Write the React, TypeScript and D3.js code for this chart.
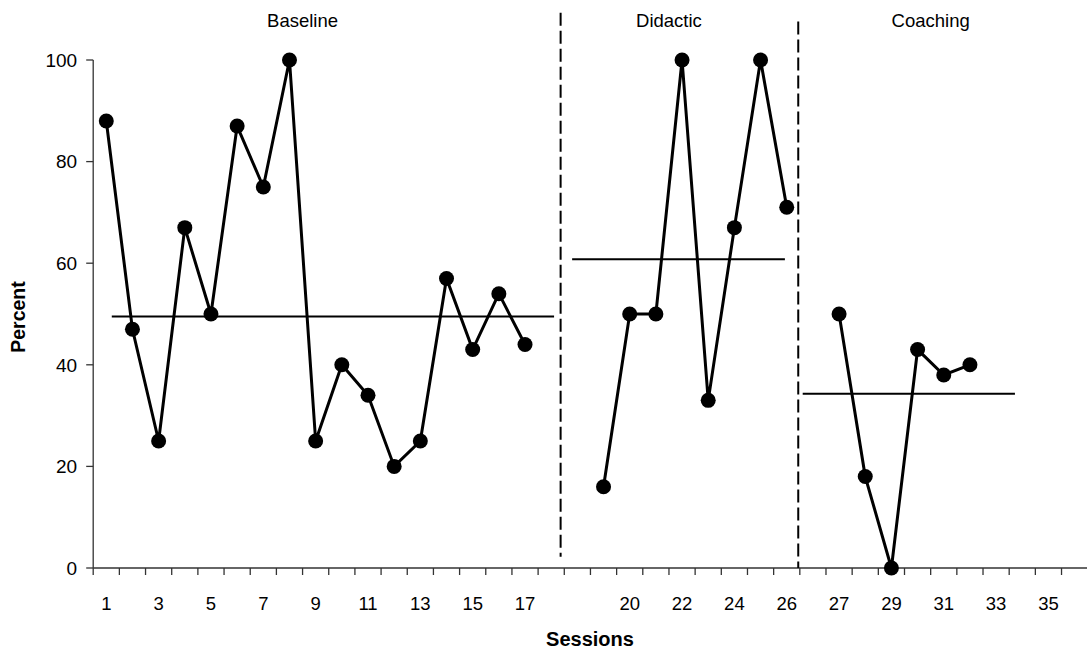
import React from "react";
import * as d3 from "d3";

// Session category labels along the x axis (blank entries separate the phases)
const categories: string[] = [
  "1", "2", "3", "4", "5", "6", "7", "8", "9", "10", "11", "12", "13", "14", "15", "16", "17",
  "18", "",
  "19", "20", "21", "22", "23", "24", "25", "26",
  "",
  "27", "28", "29", "30", "31", "32", "33", "34", "35", "36",
];

// Percent per session, by phase
const baselineSessions = ["1", "2", "3", "4", "5", "6", "7", "8", "9", "10", "11", "12", "13", "14", "15", "16", "17"];
const baselineValues = [88, 47, 25, 67, 50, 87, 75, 100, 25, 40, 34, 20, 25, 57, 43, 54, 44];

const didacticSessions = ["19", "20", "21", "22", "23", "24", "25", "26"];
const didacticValues = [16, 50, 50, 100, 33, 67, 100, 71];

const coachingSessions = ["27", "28", "29", "30", "31", "32"];
const coachingValues = [50, 18, 0, 43, 38, 40];

// Phase names, level (mean) lines and the span each covers, in category units
const phaseNames = ["Baseline", "Didactic", "Coaching"];
const phaseLabelAt = [8, 22, 32];
const phaseLevels = [49.5, 60.8, 34.3];
const phaseLevelFrom = [0.71, 18.3, 27.11];
const phaseLevelTo = [17.61, 26.43, 35.22];

// Phase change lines, in category units, with their vertical reach in percent
const phaseChangeAt = [17.86, 26.94];
const phaseChangeTop = [109.3, 107.6];
const phaseChangeBottom = [2.2, 0];

const yTicks = [0, 20, 40, 60, 80, 100];

const W = 1087;
const H = 654;
const left = 93.2;
const right = 1087.7;
const top = 60;
const bottom = 568;
const FONT = "Liberation Sans, Arial, Helvetica, sans-serif";

export default function App() {
  const x = d3
    .scaleBand<number>()
    .domain(d3.range(categories.length))
    .range([left, right])
    .paddingInner(0)
    .paddingOuter(0);
  const bw = x.bandwidth();
  const cx = (session: string) => (x(categories.indexOf(session)) as number) + bw / 2;
  const u = d3.scaleLinear().domain([0, categories.length]).range([left, right]);
  const y = d3.scaleLinear().domain([0, 100]).range([bottom, top]);

  const line = d3
    .line<[string, number]>()
    .x((d) => cx(d[0]))
    .y((d) => y(d[1]));

  const phases: [string[], number[]][] = [
    [baselineSessions, baselineValues],
    [didacticSessions, didacticValues],
    [coachingSessions, coachingValues],
  ];

  const axisColor = "#333";

  return (
    <div style={{ position: "absolute", left: 0, top: 0 }}>
      <svg width={W} height={H} style={{ display: "block", background: "#fff" }} fontFamily={FONT}>
        {/* y axis */}
        <line x1={left} x2={left} y1={y(0)} y2={y(100)} stroke={axisColor} strokeWidth={1.3} />
        {yTicks.map((t) => (
          <g key={"yt" + t}>
            <line x1={left - 7} x2={left} y1={y(t)} y2={y(t)} stroke={axisColor} strokeWidth={1.3} />
            <text x={left - 16} y={y(t)} dy="0.36em" textAnchor="end" fontSize={19} fill="#000">
              {t}
            </text>
          </g>
        ))}

        {/* x axis */}
        <line x1={left} x2={W} y1={y(0)} y2={y(0)} stroke={axisColor} strokeWidth={1.3} />
        {categories.map((_, i) => (
          <line
            key={"xt" + i}
            x1={x(i) as number}
            x2={x(i) as number}
            y1={y(0)}
            y2={y(0) + 7}
            stroke={axisColor}
            strokeWidth={1.3}
          />
        ))}
        {categories.map((c, i) =>
          i % 2 === 0 && c !== "" ? (
            <text
              key={"xl" + i}
              x={(x(i) as number) + bw / 2}
              y={610}
              textAnchor="middle"
              fontSize={18.5}
              fill="#000"
            >
              {c}
            </text>
          ) : null
        )}

        {/* axis titles */}
        <text x={590} y={646} textAnchor="middle" fontSize={20} fontWeight="bold" fill="#000">
          Sessions
        </text>
        <text
          transform={`translate(25,317) rotate(-90)`}
          textAnchor="middle"
          fontSize={19.5}
          fontWeight="bold"
          fill="#000"
        >
          Percent
        </text>

        {/* phase change lines */}
        {phaseChangeAt.map((p, i) => (
          <line
            key={"pc" + i}
            x1={u(p)}
            x2={u(p)}
            y1={y(phaseChangeTop[i])}
            y2={y(phaseChangeBottom[i])}
            stroke="#000"
            strokeWidth={2}
            strokeDasharray="13,5"
          />
        ))}

        {/* phase names */}
        {phaseNames.map((n, i) => (
          <text key={"pn" + n} x={u(phaseLabelAt[i])} y={27} textAnchor="middle" fontSize={18.5} fill="#000">
            {n}
          </text>
        ))}

        {/* phase level lines */}
        {phaseLevels.map((v, i) => (
          <line
            key={"lv" + i}
            x1={u(phaseLevelFrom[i])}
            x2={u(phaseLevelTo[i])}
            y1={y(v)}
            y2={y(v)}
            stroke="#000"
            strokeWidth={2}
          />
        ))}

        {/* data paths and markers */}
        {phases.map(([s, v], pi) => {
          const pts: [string, number][] = s.map((d, i) => [d, v[i]]);
          return (
            <g key={"ph" + pi}>
              <path d={line(pts) || ""} fill="none" stroke="#000" strokeWidth={3} />
              {pts.map((p, i) => (
                <circle key={"pt" + i} cx={cx(p[0])} cy={y(p[1])} r={7.5} fill="#000" />
              ))}
            </g>
          );
        })}
      </svg>
    </div>
  );
}
